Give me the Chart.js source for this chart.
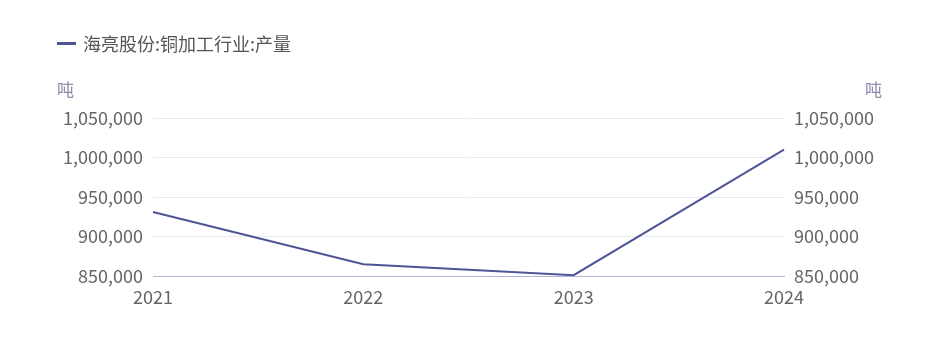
<!DOCTYPE html>
<html>
<head>
<meta charset="utf-8">
<script src="https://cdn.jsdelivr.net/npm/chart.js@4"></script>
<style>
  html, body { margin: 0; padding: 0; background: #fff; }
  #wrap { position: relative; width: 937px; height: 339px; font-family: "Noto Sans CJK SC", "Noto Sans", sans-serif; }
  #legend { position: absolute; left: 57px; top: 30px; font-size: 18px; color: #555; display: flex; align-items: center; }
  #legend .sw { width: 19px; height: 3px; background: #4e5597; margin-right: 7px; }
  .unit { position: absolute; top: 76px; font-size: 17px; color: #8a8aaa; }
  canvas { position: absolute; left: 0; top: 0; }
</style>
</head>
<body>
<div id="wrap">
  <canvas id="c" width="937" height="339"></canvas>
  <div id="legend"><span class="sw"></span>海亮股份:铜加工行业:产量</div>
  <div class="unit" style="left:57px">吨</div>
  <div class="unit" style="left:865px">吨</div>
</div>
<script>
const years = ['2021', '2022', '2023', '2024'];
const output = [931000, 865000, 851000, 1010000];
const seriesName = '海亮股份:铜加工行业:产量';
const yMin = 850000, yMax = 1050000, yStep = 50000;

const tickFont = { family: '"Noto Sans CJK SC", "Noto Sans", sans-serif', size: 18 };
const fmt = v => v.toLocaleString('en-US');

function yAxis(pos) {
    return {
        position: pos,
        min: yMin,
        max: yMax,
        border: { display: false },
        grid: { color: '#e9e9f4', drawTicks: false, display: pos === 'left' },
        ticks: {
            stepSize: yStep,
            color: '#666',
            font: tickFont,
            padding: 10,
            callback: fmt
        },
        afterFit: s => { s.width = 153; }
    };
}

new Chart(document.getElementById('c'), {
    type: 'line',
    data: {
        labels: years,
        datasets: [{
            label: seriesName,
            data: output,
            borderColor: '#4e5597',
            borderWidth: 2,
            pointRadius: 0,
            tension: 0,
            fill: false,
            yAxisID: 'y'
        }, {
            data: output,
            yAxisID: 'y2',
            borderWidth: 0,
            pointRadius: 0,
            showLine: false
        }]
    },
    options: {
        responsive: false,
        animation: false,
        layout: { padding: { top: 118, left: 0, right: 0, bottom: 0 } },
        plugins: { legend: { display: false }, tooltip: { enabled: false } },
        scales: {
            x: {
                offset: false,
                border: { color: '#b4b4d2', width: 1 },
                grid: { display: false },
                ticks: { color: '#666', font: tickFont, padding: 2, maxRotation: 0 },
                afterFit: s => { s.height = 63; }
            },
            y: yAxis('left'),
            y2: yAxis('right')
        }
    }
});
</script>
</body>
</html>
